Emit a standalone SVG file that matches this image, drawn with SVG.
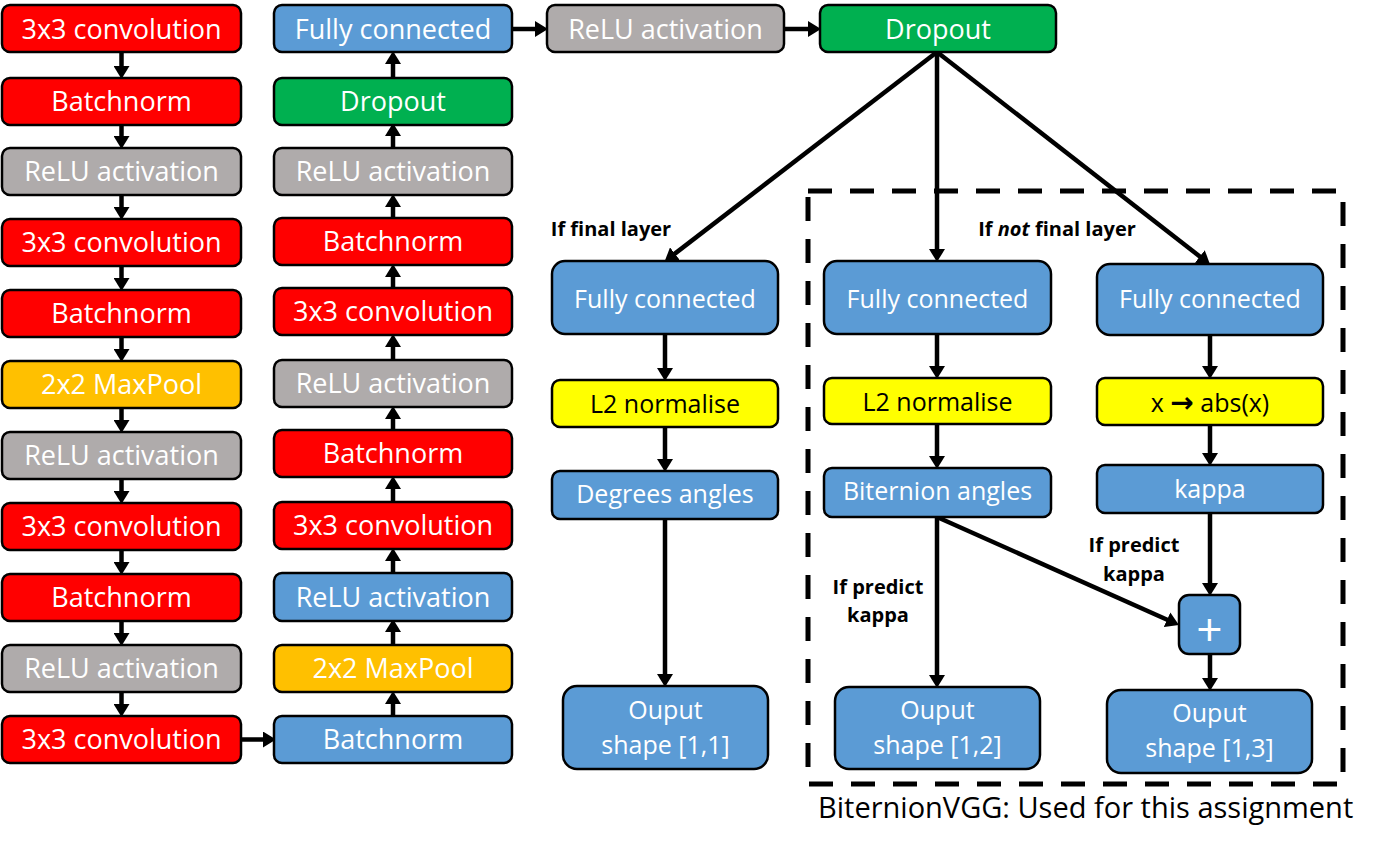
<svg xmlns="http://www.w3.org/2000/svg" width="1392" height="849" viewBox="0 0 1392 849">
<style>
.b{stroke:#000;stroke-width:2.5}
.red{fill:#FF0000}.grey{fill:#AFABAB}.green{fill:#00B050}.blue{fill:#5B9BD5}.yel{fill:#FFFF00}.org{fill:#FFC000}
.t{font-family:"Open Sans","Noto Sans",sans-serif;font-size:27px;fill:#fff;text-anchor:middle}
.t2{font-family:"Open Sans","Noto Sans",sans-serif;font-size:25px;fill:#fff;text-anchor:middle}
.k{fill:#000}
.lb{font-family:"Open Sans","Noto Sans",sans-serif;font-size:20px;font-weight:bold;fill:#000;text-anchor:middle}
.c{stroke:#000;stroke-width:4.5;fill:none;marker-end:url(#ah)}
</style>
<defs>
<marker id="ah" markerUnits="userSpaceOnUse" viewBox="0 0 13 16" markerWidth="13" markerHeight="16" refX="2" refY="8" orient="auto">
<path d="M0,0 L13,8 L0,16 z" fill="#000"/>
</marker>
</defs>
<rect width="1392" height="849" fill="#fff"/>

<g id="connectors">
<line class="c" x1="121.5" y1="52" x2="121.5" y2="68"/>
<line class="c" x1="121.5" y1="125" x2="121.5" y2="138"/>
<line class="c" x1="121.5" y1="195" x2="121.5" y2="209"/>
<line class="c" x1="121.5" y1="266" x2="121.5" y2="280"/>
<line class="c" x1="121.5" y1="337" x2="121.5" y2="351"/>
<line class="c" x1="121.5" y1="408" x2="121.5" y2="422"/>
<line class="c" x1="121.5" y1="479" x2="121.5" y2="493"/>
<line class="c" x1="121.5" y1="550" x2="121.5" y2="564"/>
<line class="c" x1="121.5" y1="621" x2="121.5" y2="635"/>
<line class="c" x1="121.5" y1="692" x2="121.5" y2="706"/>
<line class="c" x1="241" y1="739.5" x2="265" y2="739.5"/>
<line class="c" x1="393" y1="716" x2="393" y2="702"/>
<line class="c" x1="393" y1="645" x2="393" y2="630"/>
<line class="c" x1="393" y1="573" x2="393" y2="559"/>
<line class="c" x1="393" y1="502" x2="393" y2="487"/>
<line class="c" x1="393" y1="430" x2="393" y2="417"/>
<line class="c" x1="393" y1="360" x2="393" y2="345"/>
<line class="c" x1="393" y1="288" x2="393" y2="275"/>
<line class="c" x1="393" y1="218" x2="393" y2="205"/>
<line class="c" x1="393" y1="148" x2="393" y2="134"/>
<line class="c" x1="393" y1="78" x2="393" y2="62"/>
<line class="c" x1="512" y1="29" x2="537" y2="29"/>
<line class="c" x1="784" y1="29" x2="810" y2="29"/>
<line class="c" x1="937" y1="52" x2="673.3" y2="254.9"/>
<line class="c" x1="937" y1="52" x2="937" y2="251"/>
<line class="c" x1="937" y1="52" x2="1201.4" y2="257.7"/>
<line class="c" x1="665" y1="334" x2="665" y2="370"/>
<line class="c" x1="665" y1="427" x2="665" y2="461"/>
<line class="c" x1="665" y1="519" x2="665" y2="676"/>
<line class="c" x1="937" y1="334" x2="937" y2="368"/>
<line class="c" x1="937" y1="424" x2="937" y2="458"/>
<line class="c" x1="937" y1="517" x2="937" y2="677"/>
<line class="c" x1="1210" y1="335" x2="1210" y2="368"/>
<line class="c" x1="1210" y1="425" x2="1210" y2="455"/>
<line class="c" x1="1210" y1="513" x2="1210" y2="585"/>
<line class="c" x1="1210" y1="654" x2="1210" y2="680"/>
<line class="c" x1="937" y1="517" x2="1168.9" y2="620.5"/>
</g>

<g id="n-c1-1"><rect class="b red" x="2" y="5" width="239" height="47" rx="8"/><text class="t" x="121.5" y="38.5">3x3 convolution</text></g>
<g id="n-c1-2"><rect class="b red" x="2" y="78" width="239" height="47" rx="8"/><text class="t" x="121.5" y="111">Batchnorm</text></g>
<g id="n-c1-3"><rect class="b grey" x="2" y="148" width="239" height="47" rx="8"/><text class="t" x="121.5" y="181">ReLU activation</text></g>
<g id="n-c1-4"><rect class="b red" x="2" y="219" width="239" height="47" rx="8"/><text class="t" x="121.5" y="252">3x3 convolution</text></g>
<g id="n-c1-5"><rect class="b red" x="2" y="290" width="239" height="47" rx="8"/><text class="t" x="121.5" y="323">Batchnorm</text></g>
<g id="n-c1-6"><rect class="b org" x="2" y="361" width="239" height="47" rx="8"/><text class="t" x="121.5" y="394">2x2 MaxPool</text></g>
<g id="n-c1-7"><rect class="b grey" x="2" y="432" width="239" height="47" rx="8"/><text class="t" x="121.5" y="465">ReLU activation</text></g>
<g id="n-c1-8"><rect class="b red" x="2" y="503" width="239" height="47" rx="8"/><text class="t" x="121.5" y="536">3x3 convolution</text></g>
<g id="n-c1-9"><rect class="b red" x="2" y="574" width="239" height="47" rx="8"/><text class="t" x="121.5" y="607">Batchnorm</text></g>
<g id="n-c1-10"><rect class="b grey" x="2" y="645" width="239" height="47" rx="8"/><text class="t" x="121.5" y="678">ReLU activation</text></g>
<g id="n-c1-11"><rect class="b red" x="2" y="716" width="239" height="47" rx="8"/><text class="t" x="121.5" y="749">3x3 convolution</text></g>

<g id="n-c2-1"><rect class="b blue" x="274" y="5" width="238" height="47" rx="8"/><text class="t" x="393" y="38.5">Fully connected</text></g>
<g id="n-c2-2"><rect class="b green" x="274" y="78" width="238" height="47" rx="8"/><text class="t" x="393" y="111">Dropout</text></g>
<g id="n-c2-3"><rect class="b grey" x="274" y="148" width="238" height="47" rx="8"/><text class="t" x="393" y="181">ReLU activation</text></g>
<g id="n-c2-4"><rect class="b red" x="274" y="218" width="238" height="47" rx="8"/><text class="t" x="393" y="251">Batchnorm</text></g>
<g id="n-c2-5"><rect class="b red" x="274" y="288" width="238" height="47" rx="8"/><text class="t" x="393" y="321">3x3 convolution</text></g>
<g id="n-c2-6"><rect class="b grey" x="274" y="360" width="238" height="47" rx="8"/><text class="t" x="393" y="393">ReLU activation</text></g>
<g id="n-c2-7"><rect class="b red" x="274" y="430" width="238" height="47" rx="8"/><text class="t" x="393" y="463">Batchnorm</text></g>
<g id="n-c2-8"><rect class="b red" x="274" y="502" width="238" height="47" rx="8"/><text class="t" x="393" y="535">3x3 convolution</text></g>
<g id="n-c2-9"><rect class="b blue" x="274" y="573" width="238" height="48" rx="8"/><text class="t" x="393" y="607">ReLU activation</text></g>
<g id="n-c2-10"><rect class="b org" x="274" y="645" width="238" height="47" rx="8"/><text class="t" x="393" y="678">2x2 MaxPool</text></g>
<g id="n-c2-11"><rect class="b blue" x="274" y="716" width="238" height="47" rx="8"/><text class="t" x="393" y="749">Batchnorm</text></g>

<g id="n-top-relu"><rect class="b grey" x="547" y="5" width="237" height="47" rx="8"/><text class="t" x="665.5" y="38.5">ReLU activation</text></g>
<g id="n-top-dropout"><rect class="b green" x="820" y="5" width="236" height="47" rx="8"/><text class="t" x="938" y="38.5">Dropout</text></g>

<g id="n-l-fc"><rect class="b blue" x="552" y="261" width="226" height="73" rx="13"/><text class="t2" x="665" y="308">Fully connected</text></g>
<g id="n-l-l2"><rect class="b yel" x="552" y="380" width="226" height="47" rx="8"/><text class="t2 k" x="665" y="413">L2 normalise</text></g>
<g id="n-l-deg"><rect class="b blue" x="552" y="471" width="226" height="48" rx="8"/><text class="t2" x="665" y="503">Degrees angles</text></g>
<g id="n-l-out"><rect class="b blue" x="563" y="686" width="205" height="83" rx="14"/><text class="t2" x="665.5" y="719">Ouput</text><text class="t2" x="665.5" y="754">shape [1,1]</text></g>

<g id="n-m-fc"><rect class="b blue" x="824" y="261" width="227" height="73" rx="13"/><text class="t2" x="937.5" y="308">Fully connected</text></g>
<g id="n-m-l2"><rect class="b yel" x="824" y="378" width="227" height="46" rx="8"/><text class="t2 k" x="937.5" y="411">L2 normalise</text></g>
<g id="n-m-bit"><rect class="b blue" x="824" y="468" width="227" height="49" rx="8"/><text class="t2" x="937.5" y="500">Biternion angles</text></g>
<g id="n-m-out"><rect class="b blue" x="835" y="687" width="205" height="82" rx="14"/><text class="t2" x="937.5" y="719">Ouput</text><text class="t2" x="937.5" y="754">shape [1,2]</text></g>

<g id="n-r-fc"><rect class="b blue" x="1097" y="264" width="226" height="71" rx="13"/><text class="t2" x="1210" y="308">Fully connected</text></g>
<g id="n-r-abs"><rect class="b yel" x="1097" y="378" width="226" height="47" rx="8"/><text class="t2 k" x="1210" y="412">x <tspan style="font-family:'DejaVu Sans',sans-serif;font-weight:bold;font-size:28px">→</tspan> abs(x)</text></g>
<g id="n-r-kappa"><rect class="b blue" x="1097" y="465" width="226" height="48" rx="8"/><text class="t2" x="1210" y="498">kappa</text></g>
<g id="n-r-plus"><rect class="b blue" x="1179" y="595" width="61" height="59" rx="10"/><text class="t2" x="1209.5" y="646" style="font-size:46px">+</text></g>
<g id="n-r-out"><rect class="b blue" x="1107" y="690" width="205" height="83" rx="14"/><text class="t2" x="1209.5" y="722">Ouput</text><text class="t2" x="1209.5" y="757">shape [1,3]</text></g>

<g id="labels">
<text class="lb" x="611" y="236">If final layer</text>
<text class="lb" x="1057" y="236">If <tspan font-style="italic">not</tspan> final layer</text>
<text class="lb" x="878" y="594">If predict</text>
<text class="lb" x="878" y="622">kappa</text>
<text class="lb" x="1134" y="552">If predict</text>
<text class="lb" x="1134" y="581">kappa</text>
</g>

<g id="group-box">
<rect x="808" y="191" width="535" height="593" fill="none" stroke="#000" stroke-width="5" stroke-dasharray="24 18"/>
<text x="818" y="818" style="font-family:'Open Sans','Noto Sans',sans-serif;font-size:29px;fill:#000">BiternionVGG: Used for this assignment</text>
</g>
</svg>
